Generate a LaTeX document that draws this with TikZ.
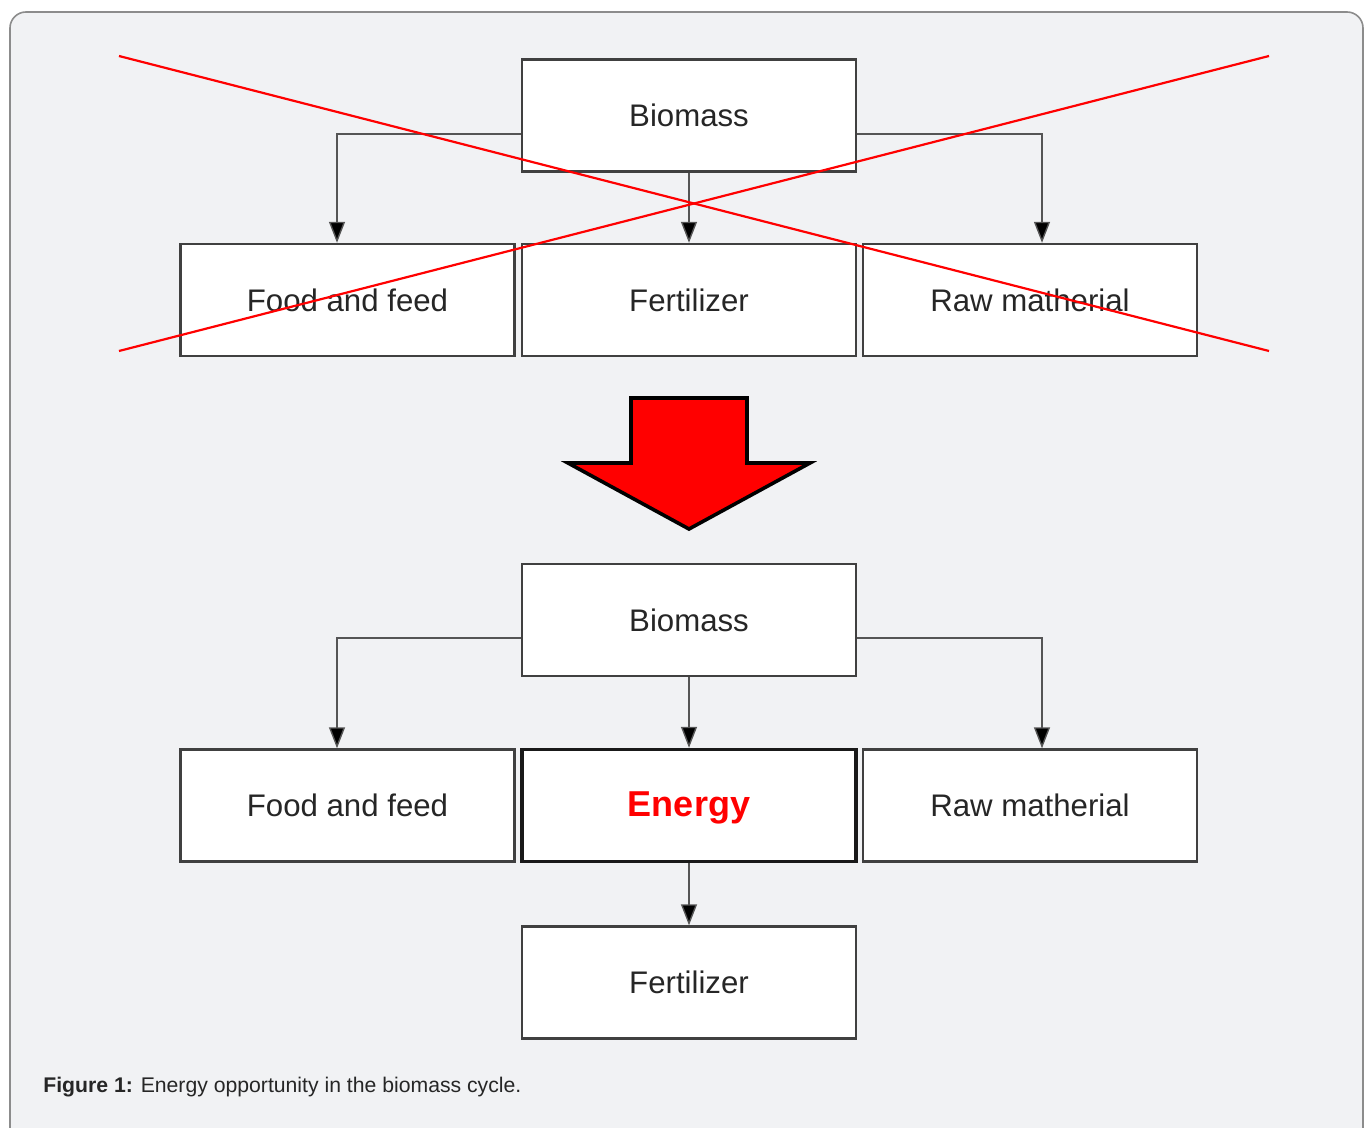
\documentclass[tikz,border=0pt]{standalone}
\usepackage{fontspec}
\setmainfont{Liberation Sans}
\usetikzlibrary{arrows.meta}
\definecolor{panel}{HTML}{F1F2F4}
\definecolor{boxline}{HTML}{404040}
\definecolor{conn}{HTML}{555555}
\tikzset{
  box/.style={draw=boxline, line width=1.2pt, fill=white, minimum width=167pt, minimum height=56pt, inner sep=0pt, font=\fontsize{15.6}{18}\selectfont, text=black!85},
  conn/.style={draw=conn, line width=0.7pt, -{Triangle[length=10.5pt,width=8pt,fill=black]}},
  cross/.style={draw=red, line width=1.1pt}
}
\begin{document}
\begin{tikzpicture}[x=0.5pt,y=-0.5pt]
\useasboundingbox (0,0) rectangle (1365,1128);
\fill[white] (0,0) rectangle (1365,1128);
\begin{scope}
\clip (0,0) rectangle (1365,1128);
\draw[draw=gray!90, line width=0.8pt, fill=panel, rounded corners=8pt] (10,12) rectangle (1363,1150);
\end{scope}
% top part
\node[box] (b1) at (689,115.5) {Biomass};
\node[box] (f1) at (347.5,300) {Food and feed};
\node[box] (z1) at (689,300) {Fertilizer};
\node[box] (r1) at (1030,300) {Raw matherial};
\draw[conn] (b1.west |- 0,134) -| (337,0 |- f1.north);
\draw[conn] (b1.east |- 0,134) -| (1042,0 |- r1.north);
\draw[conn] (b1.south) -- (z1.north);
\coordinate (c1) at (119,56);
\coordinate (c2) at (1269,351);
\coordinate (c3) at (119,351);
\coordinate (c4) at (1269,56);
\draw[cross] (c1) -- (c2);
\draw[cross] (c3) -- (c4);
% big arrow
\draw[fill=red, draw=black, line width=1.8pt, line join=miter]
  (631,398) -- (747,398) -- (747,463) -- (810,463) -- (689,529) -- (568,463) -- (631,463) -- cycle;
% bottom part
\node[box] (b2) at (689,620) {Biomass};
\node[box] (f2) at (347.5,805.5) {Food and feed};
\node[box, draw=black!90, line width=1.7pt, text=red, font=\fontsize{18}{22}\selectfont\bfseries, text height=15pt, text depth=4pt] (e2) at (689,805.5) {Energy};
\node[box] (r2) at (1030,805.5) {Raw matherial};
\node[box] (z2) at (689,982.5) {Fertilizer};
\draw[conn] (b2.west |- 0,638) -| (337,0 |- f2.north);
\draw[conn] (b2.east |- 0,638) -| (1042,0 |- r2.north);
\draw[conn] (b2.south) -- (e2.north);
\draw[conn] (e2.south) -- (z2.north);
% caption
\node[anchor=west, inner sep=0pt, font=\fontsize{10.6}{13}\selectfont, text=black!85] (cap) at (43,1087) {\textbf{Figure 1:} Energy opportunity in the biomass cycle.};
\end{tikzpicture}
\end{document}
